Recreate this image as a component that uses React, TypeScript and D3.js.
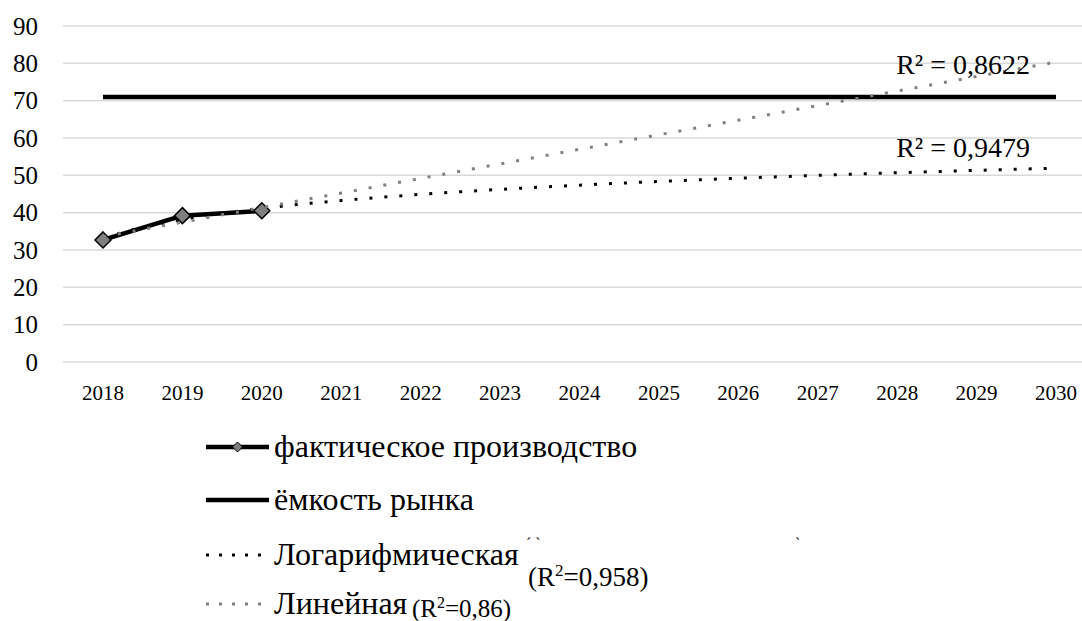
import React from 'react';
import * as d3 from 'd3';

const years = ['2018', '2019', '2020', '2021', '2022', '2023', '2024', '2025', '2026', '2027', '2028', '2029', '2030'];
const actualYears = ['2018', '2019', '2020'];
const actualValues = [32.7, 39.2, 40.5];
const capacityValues = [71, 71, 71, 71, 71, 71, 71, 71, 71, 71, 71, 71, 71];
const yTicks = [0, 10, 20, 30, 40, 50, 60, 70, 80, 90];
const r2Linear = 'R² = 0,8622';
const r2Log = 'R² = 0,9479';

const W = 1082;
const H = 621;
const FONT = "'Liberation Serif', 'Times New Roman', serif";

// least squares trendlines (как в Excel), x = 1..n
function fitLinear(vals: number[]) {
  const xs = vals.map((_, i) => i + 1);
  const mx = d3.mean(xs)!;
  const my = d3.mean(vals)!;
  const b = d3.sum(xs, (x, i) => (x - mx) * (vals[i] - my)) / d3.sum(xs, (x) => (x - mx) ** 2);
  const a = my - b * mx;
  return (x: number) => a + b * x;
}
function fitLog(vals: number[]) {
  const lx = vals.map((_, i) => Math.log(i + 1));
  const mx = d3.mean(lx)!;
  const my = d3.mean(vals)!;
  const b = d3.sum(lx, (x, i) => (x - mx) * (vals[i] - my)) / d3.sum(lx, (x) => (x - mx) ** 2);
  const a = my - b * mx;
  return (x: number) => a + b * Math.log(x);
}

export default function App() {
  const x = d3.scalePoint<string>().domain(years).range([103, 1056]);
  const y = d3.scaleLinear().domain([0, 90]).range([362, 26]);
  const step = x.step();
  const xNum = (t: number) => x(years[0])! + (t - 1) * step;

  const lin = fitLinear(actualValues);
  const lg = fitLog(actualValues);
  const ts = d3.range(1, years.length + 0.001, 0.1);

  const linPath = d3.line<number>().x((t) => xNum(t)).y((t) => y(lin(t)))(ts) || '';
  const logPath = d3.line<number>().x((t) => xNum(t)).y((t) => y(lg(t)))(ts) || '';

  const capPath =
    d3
      .line<number>()
      .x((_, i) => x(years[i])!)
      .y((d) => y(d))(capacityValues) || '';
  const actPath =
    d3
      .line<number>()
      .x((_, i) => x(actualYears[i])!)
      .y((d) => y(d))(actualValues) || '';

  const diamond = (cx: number, cy: number, r: number) =>
    `M${cx},${cy - r}L${cx + r},${cy}L${cx},${cy + r}L${cx - r},${cy}Z`;

  const legendX1 = 206;
  const legendX2 = 269;
  const legendText = 274;
  const tf = { fontFamily: FONT };

  return (
    <div style={{ position: 'fixed', left: 0, top: 0, fontFamily: FONT }}>
      <svg width={W} height={H} style={{ display: 'block', background: '#fff', fontFamily: FONT }}>
        {/* grid */}
        {yTicks.map((t) => (
          <line key={t} x1={63} x2={W} y1={y(t)} y2={y(t)} stroke="#d9d9d9" strokeWidth={1.5} />
        ))}
        {/* y axis labels */}
        {yTicks.map((t) => (
          <text key={'yl' + t} x={38} y={y(t)} dy="0.35em" textAnchor="end" fontSize={25} fill="#000" style={tf}>
            {t}
          </text>
        ))}
        {/* x axis labels */}
        {years.map((yr) => (
          <text key={yr} x={x(yr)} y={400} textAnchor="middle" fontSize={21} fill="#000" style={tf}>
            {yr}
          </text>
        ))}

        {/* market capacity */}
        <path d={capPath} fill="none" stroke="#000" strokeWidth={4.5} />

        {/* trendlines */}
        <path d={logPath} fill="none" stroke="#000" strokeWidth={3} strokeDasharray="3,12" />

        {/* actual production */}
        <path d={actPath} fill="none" stroke="#000" strokeWidth={4.5} strokeLinejoin="round" />
        {actualValues.map((v, i) => (
          <path
            key={'m' + i}
            d={diamond(x(actualYears[i])!, y(v), 8)}
            fill="#7f7f7f"
            stroke="#000"
            strokeWidth={1.5}
          />
        ))}
        <path d={linPath} fill="none" stroke="#808080" strokeWidth={3} strokeDasharray="3,12" />

        {/* R² labels */}
        <text x={1030} y={74} textAnchor="end" fontSize={28} fill="#000" style={tf}>
          {r2Linear}
        </text>
        <text x={1030} y={157} textAnchor="end" fontSize={28} fill="#000" style={tf}>
          {r2Log}
        </text>

        {/* legend */}
        <g fontSize={32} fill="#000" style={tf}>
          <line x1={legendX1} x2={legendX2} y1={447} y2={447} stroke="#000" strokeWidth={4.5} />
          <path d={diamond((legendX1 + legendX2) / 2, 447, 5)} fill="#7f7f7f" stroke="#000" strokeWidth={1} />
          <text x={legendText} y={457}>фактическое производство</text>

          <line x1={legendX1} x2={legendX2} y1={500} y2={500} stroke="#000" strokeWidth={4.5} />
          <text x={legendText} y={510}>ёмкость рынка</text>

          <line x1={legendX1} x2={legendX2} y1={555} y2={555} stroke="#000" strokeWidth={3} strokeDasharray="3,10" />
          <text x={legendText} y={565}>Логарифмическая</text>
          <text x={526} y={549} fontSize={16}>´ ˋ</text>
          <text x={795} y={549} fontSize={16}>ˋ</text>
          <text x={528} y={586} fontSize={27}>
            (R<tspan fontSize={17} dy={-10}>2</tspan>
            <tspan dy={10}>=0,958)</tspan>
          </text>

          <line x1={legendX1} x2={legendX2} y1={604} y2={604} stroke="#808080" strokeWidth={3} strokeDasharray="3,10" />
          <text x={legendText} y={614}>Линейная</text>
          <text x={412} y={617} fontSize={25}>
            (R<tspan fontSize={16} dy={-9}>2</tspan>
            <tspan dy={9}>=0,86)</tspan>
          </text>
        </g>
      </svg>
    </div>
  );
}
